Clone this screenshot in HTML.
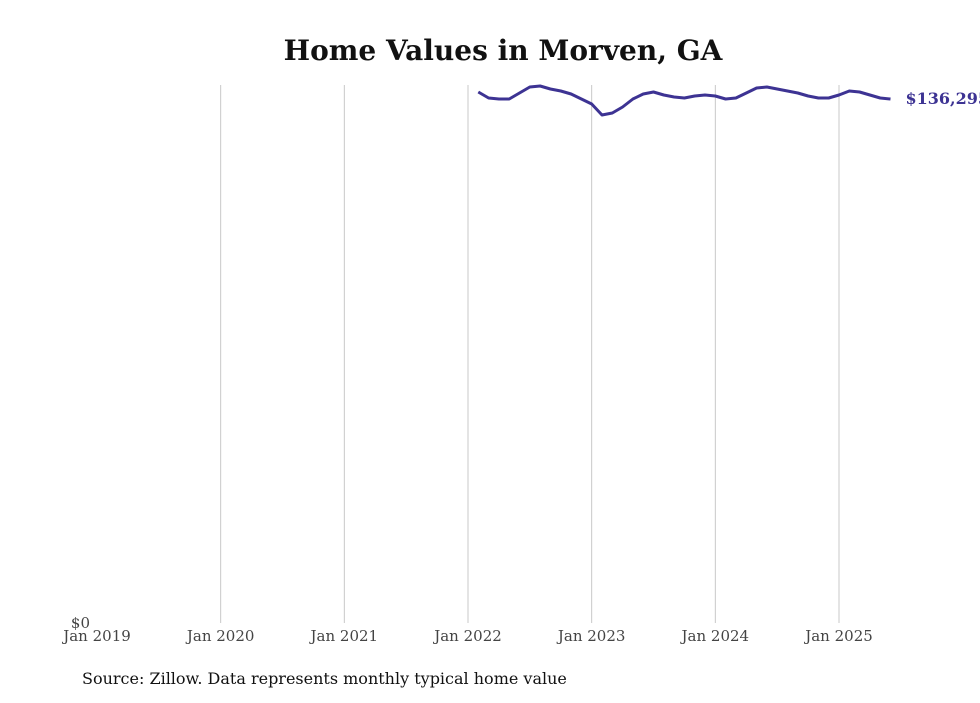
<!DOCTYPE html>
<html><head><meta charset="utf-8"><style>
body{margin:0;background:#fff;width:980px;height:699px;overflow:hidden;font-family:"DejaVu Serif","Liberation Serif",serif}
svg text{font-family:"DejaVu Serif","Liberation Serif",serif}
</style></head><body>
<svg id="chart" width="980" height="699">
<text x="503" y="60" text-anchor="middle" font-size="28" font-weight="bold" fill="#111">Home Values in Morven, GA</text>
<g id="grid"></g><g id="xticks"></g>
<text x="90" y="628" text-anchor="end" font-size="15" fill="#444">$0</text>
<path id="line" fill="none" stroke="#3d3393" stroke-width="3" stroke-linejoin="round"></path>
<text id="endlabel" font-size="16" font-weight="bold" fill="#3d3393"></text>
<text x="82" y="684" font-size="16" fill="#111">Source: Zillow. Data represents monthly typical home value</text>
</svg>
<script>
const tickLabels=["Jan 2019","Jan 2020","Jan 2021","Jan 2022","Jan 2023","Jan 2024","Jan 2025"];
const startMonth=37; // Feb 2022, months since Jan 2019
const values=[138113,136553,136295,136295,137853,139414,139674,138893,138373,137593,136295,134992,132131,132651,134212,136295,137593,138113,137333,136813,136553,137073,137333,137073,136295,136553,137853,139154,139414,138893,138373,137853,137073,136553,136553,137333,138373,138113,137333,136553,136295];
const x=m=>97+m*(742/72);
const y=v=>623-v*(524/136295);
const ns="http://www.w3.org/2000/svg";
const grid=document.getElementById('grid'),xt=document.getElementById('xticks');
tickLabels.forEach((t,i)=>{
  const X=x(i*12);
  if(i>0){const l=document.createElementNS(ns,'line');
  l.setAttribute('x1',X);l.setAttribute('x2',X);l.setAttribute('y1',85);l.setAttribute('y2',623);
  l.setAttribute('stroke','#c8c8c8');l.setAttribute('stroke-width','1');
  
  
  grid.appendChild(l);}
  const tx=document.createElementNS(ns,'text');
  tx.setAttribute('x',X);tx.setAttribute('y',641);tx.setAttribute('text-anchor','middle');
  tx.setAttribute('font-size','15');tx.setAttribute('fill','#444');tx.textContent=t;
  
  
  xt.appendChild(tx);
});
document.getElementById('line').setAttribute('d',values.map((v,i)=>(i?'L':'M')+x(startMonth+i).toFixed(1)+','+y(v).toFixed(1)).join(''));
const last=values[values.length-1],el=document.getElementById('endlabel');
el.setAttribute('x',x(startMonth+values.length-1)+15);el.setAttribute('y',y(last)+5);
el.textContent='$'+last.toLocaleString('en-US');
</script>
</body></html>
